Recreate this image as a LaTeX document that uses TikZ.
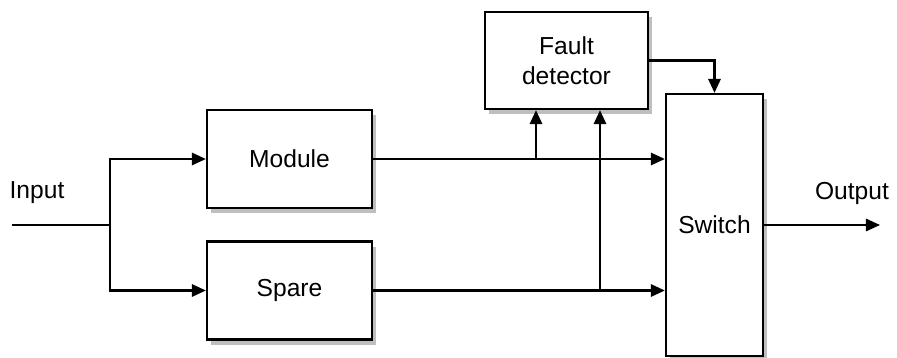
\documentclass[tikz,border=0pt]{standalone}
\usepackage{fontspec}
\setmainfont{Liberation Sans}
\usetikzlibrary{arrows.meta,positioning,shadows}

\begin{document}
\begin{tikzpicture}[%
        > = {Triangle[length=8pt,width=7pt]},
        line width = 0.45mm,
        x = 0.02cm,
        y = -0.02cm,
        font = \fontsize{14}{17}\selectfont,
        block/.style = {draw, fill=white, line width=0.45mm,
            drop shadow={opacity=0.25, fill=black, shadow xshift=2.5pt, shadow yshift=-3pt}}
    ]

        \useasboundingbox (0,0) rectangle (897,358);

        % Blocks:
        \node[block, minimum width=3.3cm, minimum height=1.96cm] (module) at (289.5,159) {Module};
        \node[block, minimum width=3.3cm, minimum height=1.96cm] (spare) at (289.5,290.5) {Spare};
        \node[block, minimum width=3.26cm, minimum height=1.94cm, align=center] (fault) at (566.5,60.5) {Fault\\detector};
        \node[block, minimum width=1.94cm, minimum height=5.24cm] (switch) at (714.5,225) {Switch};

        % Points where the signal lines start, split and end.
        \coordinate (in)    at (12,225);
        \coordinate (split) at (110,225);
        \coordinate (tapm)  at (536,159);
        \coordinate (taps)  at (600,290.5);
        \coordinate (out)   at (880,225);

        % Labels at the ends:
        \node (inlabel)  at (37,193)  {Input};
        \node (outlabel) at (852,193) {Output};

        % Signal lines.
        \draw (in) -- (split);
        \draw[->] (split) |- (module.west);
        \draw[->] (split) |- (spare.west);
        \draw[->] (module.east) -- (module.east -| switch.west);
        \draw[->] (spare.east) -- (spare.east -| switch.west);
        \draw[->] (tapm) -- (tapm |- fault.south);
        \draw[->] (taps) -- (taps |- fault.south);
        \draw[->] (fault.east) -| (switch.north);
        \draw[->] (switch.east) -- (out);
    \end{tikzpicture}
\end{document}
